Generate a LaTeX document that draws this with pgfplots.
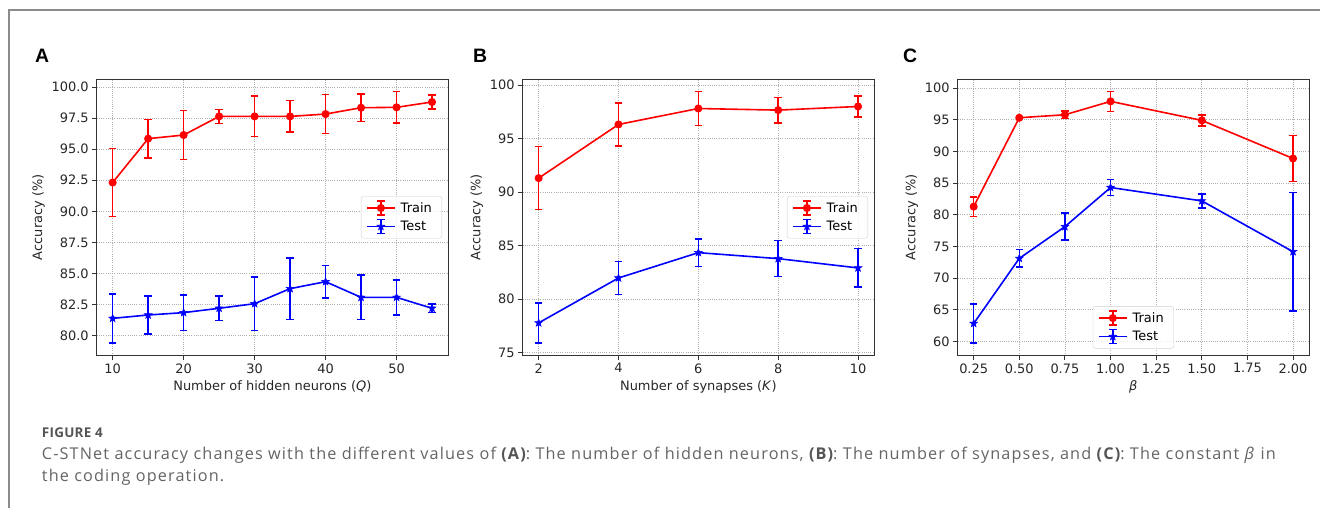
\documentclass[border=0pt]{standalone}
\usepackage{pgfplots}
\pgfplotsset{compat=1.18}
\usepackage{pgfplotstable}
\usepackage{fontspec}
\setmainfont{DejaVu Sans}
\newfontfamily\capfont[LetterSpace=7.0]{Open Sans}
\newfontfamily\capfontb[LetterSpace=2.0]{Open Sans}
\newfontfamily\panelfont{Liberation Sans}
\definecolor{mplred}{RGB}{255,0,0}
\definecolor{mplblue}{RGB}{0,0,255}
\definecolor{capgray}{RGB}{100,100,100}
\definecolor{capdark}{RGB}{85,85,85}
\definecolor{framegray}{RGB}{140,140,140}
\definecolor{gridgray}{RGB}{176,176,176}

\pgfdeclareplotmark{fstar}{%
  \pgfpathmoveto{\pgfpointpolar{90}{\pgfplotmarksize}}%
  \pgfpathlineto{\pgfpointpolar{126}{0.42\pgfplotmarksize}}%
  \pgfpathlineto{\pgfpointpolar{162}{\pgfplotmarksize}}%
  \pgfpathlineto{\pgfpointpolar{198}{0.42\pgfplotmarksize}}%
  \pgfpathlineto{\pgfpointpolar{234}{\pgfplotmarksize}}%
  \pgfpathlineto{\pgfpointpolar{270}{0.42\pgfplotmarksize}}%
  \pgfpathlineto{\pgfpointpolar{306}{\pgfplotmarksize}}%
  \pgfpathlineto{\pgfpointpolar{342}{0.42\pgfplotmarksize}}%
  \pgfpathlineto{\pgfpointpolar{18}{\pgfplotmarksize}}%
  \pgfpathlineto{\pgfpointpolar{54}{0.42\pgfplotmarksize}}%
  \pgfpathclose
  \pgfusepathqfillstroke
}

% ---------------- data ----------------
\pgfplotstableread{
x y e
10 92.32 2.74
15 95.85 1.54
20 96.14 1.97
25 97.64 0.57
30 97.64 1.62
35 97.64 1.27
40 97.83 1.58
45 98.34 1.10
50 98.37 1.28
55 98.80 0.55
}\AtrainA
\pgfplotstableread{
x y e
10 81.39 1.97
15 81.66 1.54
20 81.85 1.43
25 82.20 0.97
30 82.57 2.15
35 83.78 2.48
40 84.34 1.29
45 83.08 1.78
50 83.08 1.42
55 82.20 0.34
}\AtestA
\pgfplotstableread{
x y e
2 91.31 2.94
4 96.33 2.03
6 97.82 1.59
8 97.67 1.18
10 98.01 0.98
}\BtrainB
\pgfplotstableread{
x y e
2 77.77 1.87
4 81.97 1.56
6 84.34 1.30
8 83.78 1.68
10 82.91 1.80
}\BtestB
\pgfplotstableread{
x y e
0.25 81.29 1.53
0.50 95.31 0.15
0.75 95.78 0.60
1.00 97.89 1.58
1.50 94.89 0.87
2.00 88.88 3.64
}\CtrainC
\pgfplotstableread{
x y e
0.25 62.85 3.05
0.50 73.12 1.40
0.75 78.13 2.13
1.00 84.30 1.24
1.50 82.19 1.08
2.00 74.18 9.36
}\CtestC

\pgfplotsset{
  panel/.style={
    width=351.3bp, height=276.5bp, scale only axis,
    axis line style={line width=1bp, black!80},
    tick align=outside, xtick pos=bottom, ytick pos=left,
    major tick length=4.5bp,
    tick style={line width=0.9bp, black!80},
    grid=major, grid style={dash pattern=on 0.8bp off 1.4bp, line width=0.8bp, gridgray},
    tick label style={font=\fontsize{13}{15}\selectfont, text=black!85},
    label style={font=\fontsize{13}{15}\selectfont, text=black!85},
    /pgf/number format/assume math mode=true,
    scaled ticks=false,
    ylabel={Accuracy (\%)},
    error bars/y dir=both, error bars/y explicit,
    error bars/error bar style={line width=1.6bp},
    error bars/error mark options={rotate=90, mark size=3.8bp, line width=1.6bp},
    legend style={font=\fontsize{13}{15}\selectfont, draw=black!18, rounded corners=2.5bp,
      fill=white, fill opacity=0.8, text opacity=1, inner xsep=5bp, inner ysep=4bp,
      row sep=3bp, cells={anchor=west}, nodes={inner xsep=5bp}},
    legend image code/.code={
      \draw[#1, mark=none] (0bp,0bp) -- (28bp,0bp);
      \draw[#1, mark=none, line width=1.5bp] (14bp,-7bp) -- (14bp,7bp)
         (10.2bp,-7bp) -- (17.8bp,-7bp) (10.2bp,7bp) -- (17.8bp,7bp);
      \draw[#1] plot coordinates {(14bp,0bp)};
    },
  },
  trainst/.style={color=mplred, line width=1.6bp, mark=*, mark size=3.2bp,
    mark options={fill=mplred, solid}},
  testst/.style={color=mplblue, line width=1.6bp, mark=fstar, mark size=4bp,
    mark options={fill=mplblue, solid, line width=0.6bp}},
}

\begin{document}
\begin{tikzpicture}
\path[use as bounding box] (0,0) rectangle (1320bp,-508bp);
% frame
\draw[framegray, line width=2bp] (9bp,-508bp) -- (9bp,-10bp) -- (1320bp,-10bp);

% panel labels
\node[anchor=base west, inner sep=0, font=\panelfont\bfseries\fontsize{19.5}{20}\selectfont] at (35bp,-62bp) {A};
\node[anchor=base west, inner sep=0, font=\panelfont\bfseries\fontsize{19.5}{20}\selectfont] at (473bp,-62bp) {B};
\node[anchor=base west, inner sep=0, font=\panelfont\bfseries\fontsize{19.5}{20}\selectfont] at (903bp,-62bp) {C};

% ---------- A ----------
\begin{axis}[panel, at={(96.7bp,-79bp)}, anchor=north west,
  xmin=7.75, xmax=57.25, ymin=78.4, ymax=100.65,
  xtick={10,20,30,40,50}, ytick={80,82.5,85,87.5,90,92.5,95,97.5,100},
  yticklabel style={/pgf/number format/.cd, fixed, fixed zerofill, precision=1},
  xlabel={Number of hidden neurons (\textit{Q})},
  legend style={at={(rel axis cs:1,0.5)}, anchor=east, xshift=-6bp}]
\addplot[trainst] table[x=x, y=y, y error=e] {\AtrainA};
\addlegendentry{Train}
\addplot[testst] table[x=x, y=y, y error=e] {\AtestA};
\addlegendentry{Test}
\end{axis}

% ---------- B ----------
\begin{axis}[panel, at={(522.7bp,-79bp)}, anchor=north west,
  xmin=1.6, xmax=10.4, ymin=74.72, ymax=100.58,
  xtick={2,4,6,8,10}, ytick={75,80,85,90,95,100},
  xlabel={Number of synapses (\textit{K})},
  legend style={at={(rel axis cs:1,0.5)}, anchor=east, xshift=-6bp}]
\addplot[trainst] table[x=x, y=y, y error=e] {\BtrainB};
\addlegendentry{Train}
\addplot[testst] table[x=x, y=y, y error=e] {\BtestB};
\addlegendentry{Test}
\end{axis}

% ---------- C ----------
\begin{axis}[panel, at={(957.7bp,-79bp)}, anchor=north west,
  xmin=0.1625, xmax=2.0875, ymin=57.8, ymax=101.42,
  xtick={0.25,0.5,0.75,1,1.25,1.5,1.75,2}, ytick={60,65,70,75,80,85,90,95,100},
  xticklabel style={/pgf/number format/.cd, fixed, fixed zerofill, precision=2},
  xlabel={\textit{β}},
  legend style={at={(rel axis cs:0.5,0)}, anchor=south, yshift=7bp}]
\addplot[trainst] table[x=x, y=y, y error=e] {\CtrainC};
\addlegendentry{Train}
\addplot[testst] table[x=x, y=y, y error=e] {\CtestC};
\addlegendentry{Test}
\end{axis}

% caption
\node[anchor=base west, inner sep=0, text=capdark, font=\capfontb\bfseries\fontsize{13.5}{15}\selectfont] at (41.7bp,-437.3bp) {FIGURE 4};
\node[anchor=base west, inner sep=0, text=capgray, font=\capfont\fontsize{16.3}{22}\selectfont] at (41.7bp,-459.3bp)
 {C-STNet accuracy changes with the different values of {\color{capdark}\bfseries(A)}: The number of hidden neurons, {\color{capdark}\bfseries(B)}: The number of synapses, and {\color{capdark}\bfseries(C)}: The constant \textit{β} in};
\node[anchor=base west, inner sep=0, text=capgray, font=\capfont\fontsize{16.3}{22}\selectfont] at (41.7bp,-481.3bp)
 {the coding operation.};
\end{tikzpicture}
\end{document}
